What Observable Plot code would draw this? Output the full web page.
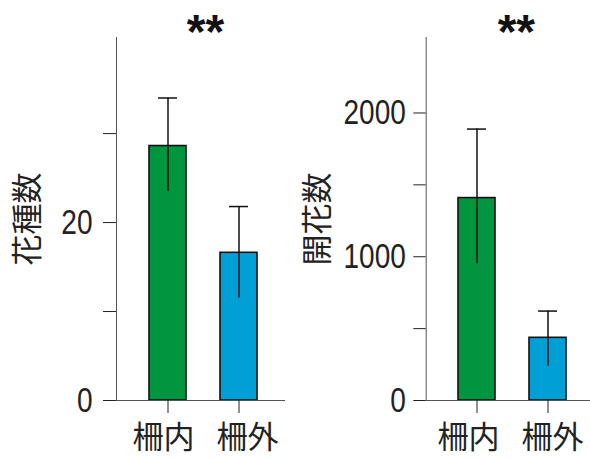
<!DOCTYPE html>
<html>
<head>
<meta charset="utf-8">
<script src="https://cdn.jsdelivr.net/npm/d3@7"></script>
<script src="https://cdn.jsdelivr.net/npm/@observablehq/plot@0.6"></script>
<style>
  html, body { margin: 0; padding: 0; background: #fff; }
  #wrap { display: flex; width: 590px; height: 459px; overflow: hidden; }
</style>
</head>
<body>
<div id="wrap"></div>
<script>
const categories = ["柵内", "柵外"];
const colors = ["#00953f", "#00a0d6"];

const speciesMean = [28.6, 16.6];
const speciesHigh = [34.0, 21.8];
const speciesLow  = [23.5, 11.5];
const speciesTicks = [0, 10, 20, 30];
const speciesLabeled = [0, 20];

const flowersMean = [1408, 436];
const flowersHigh = [1888, 622];
const flowersLow  = [952, 239];
const flowersTicks = [0, 500, 1000, 1500, 2000];
const flowersLabeled = [0, 1000, 2000];

const signif = ["**", "**"];
const yLabels = ["花種数", "開花数"];

const numFont = "'Liberation Sans', Arial, sans-serif";
const cjkFont = "'Noto Sans CJK JP', sans-serif";

function panel({mean, high, low, ticks, labeled, yMax, label, star, marginLeft, marginRight, tickSize, tickPadding, labelDx, starDx, xRange, catDx}) {
  const rows = categories.map((c, i) => ({cat: c, mean: mean[i], high: high[i], low: low[i], color: colors[i]}));
  return Plot.plot({
    width: 295,
    height: 459,
    marginLeft,
    marginRight,
    marginTop: 37,
    marginBottom: 59,
    style: {background: "#fff", color: "#222", overflow: "visible"},
    x: {domain: categories, range: xRange, paddingInner: 0.472, paddingOuter: 0, axis: null},
    y: {domain: [0, yMax], axis: null},
    marks: [
      Plot.barY(rows, {x: "cat", y: "mean", fill: "color", stroke: "#111", strokeWidth: 1.6}),
      Plot.ruleX(rows, {x: "cat", y1: "low", y2: "high", stroke: "#111", strokeWidth: 1.5}),
      Plot.tickY(rows, {x: "cat", y: "high", stroke: "#111", strokeWidth: 1.5, insetLeft: 9, insetRight: 9}),
      Plot.frame({anchor: "left", stroke: "#555", strokeWidth: 1}),
      Plot.ruleY([0], {stroke: "#555", strokeWidth: 1}),
      Plot.axisY({ticks, tickSize, tickPadding, stroke: "#222",
        tickFormat: d => labeled.includes(d) ? String(d) : "",
        fontSize: 35, fontFamily: numFont, label: null}),
      Plot.axisX({tickSize: 13, tickFormat: () => "", label: null, stroke: "#222"}),
      ...categories.map((c, i) => Plot.text([c], {x: d => d, y: () => 0, lineAnchor: "top", dy: 25, dx: catDx[i], fontSize: 31, fontFamily: cjkFont, fill: "#222"})),
      Plot.text([label], {frameAnchor: "left", textAnchor: "middle", lineAnchor: "middle", dx: labelDx, rotate: -90, fontSize: 31, fontFamily: cjkFont, fill: "#222"}),
      Plot.text([star], {frameAnchor: "top", lineAnchor: "bottom", dy: 10, dx: starDx, fontSize: 48, fontWeight: "bold", fontFamily: "'Liberation Sans', Arial, sans-serif", fill: "#111"})
    ]
  });
}

function condenseTicks(svg) {
  svg.querySelectorAll('g[aria-label="y-axis tick label"] text').forEach(t => {
    if (t.textContent) {
      const w = t.getComputedTextLength();
      t.setAttribute("textLength", (w * 0.8).toFixed(1));
      t.setAttribute("lengthAdjust", "spacingAndGlyphs");
    }
  });
}

const wrap = document.getElementById("wrap");
const p1 = panel({
  mean: speciesMean, high: speciesHigh, low: speciesLow,
  ticks: speciesTicks, labeled: speciesLabeled, yMax: 40.8,
  label: yLabels[0], star: signif[0],
  marginLeft: 116, marginRight: 10, tickSize: 13, tickPadding: 11, labelDx: -88, starDx: 4.5,
  xRange: [148, 258], catDx: [-4.5, 8.5]
});
const p2 = panel({
  mean: flowersMean, high: flowersHigh, low: flowersLow,
  ticks: flowersTicks, labeled: flowersLabeled, yMax: 2525,
  label: yLabels[1], star: signif[1],
  marginLeft: 130.7, marginRight: 0, tickSize: 12.4, tickPadding: 8, labelDx: -108, starDx: 8,
  xRange: [162.7, 272.7], catDx: [-8.5, 4.5]
});
wrap.appendChild(p1);
wrap.appendChild(p2);
condenseTicks(p1);
condenseTicks(p2);
</script>
</body>
</html>
